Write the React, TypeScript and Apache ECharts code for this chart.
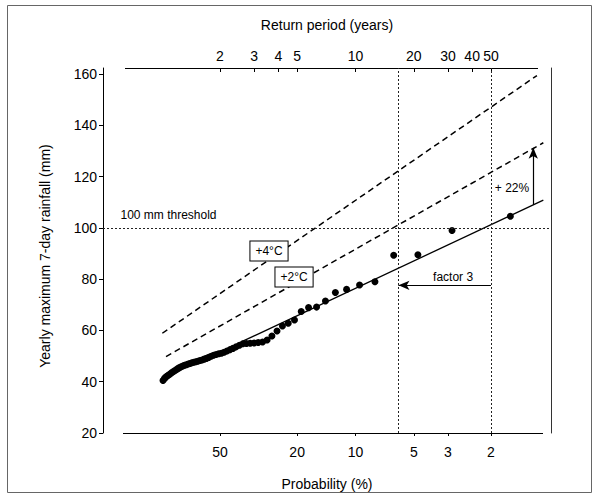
import React, { useEffect, useRef } from "react";
import * as echarts from "echarts";

// ---- data ----
const RECORD_YEARS = 62; // plotting position T = (N + 1) / rank
const RANKED_RAINFALL = [
  104.5, 99.0, 89.5, 89.3, 79.0, 77.7, 76.0, 74.8, 71.5, 69.1,
  68.9, 67.4, 64.1, 62.8, 61.7, 59.8, 57.8, 56.3, 55.5, 55.3,
  55.1, 55.0, 54.9, 54.8, 54.2, 53.6, 53.0, 52.5, 52.0, 51.5,
  51.1, 50.9, 50.6, 50.3, 49.9, 49.5, 49.1, 48.8, 48.5, 48.3,
  48.0, 47.8, 47.6, 47.4, 47.1, 46.9, 46.6, 46.4, 46.1, 45.8,
  45.5, 45.1, 44.7, 44.3, 43.9, 43.5, 43.0, 42.6, 42.2, 41.8,
  41.2, 40.5,
];
// [return period (years), rainfall (mm)]
const FITTED_LINE = [[2.59, 55.6], [93.2, 110.8]];
const PLUS2_LINE = [[1.053, 49.8], [93.2, 133.2]];
const PLUS4_LINE = [[1.008, 58.9], [86.4, 159.4]];

const TOP_TICK_YEARS = [2, 3, 4, 5, 10, 20, 30, 40, 50];
const BOTTOM_TICK_PCT = [50, 20, 10, 5, 10 / 3, 2];
const Y_TICKS = [20, 40, 60, 80, 100, 120, 140, 160];

const THRESHOLD_MM = 100;
const DESIGN_PERIOD = 50;
const FACTOR = 3;
const FACTOR_ARROW_MM = 77.6;
const INCREASE_ARROW = { period: 82.7, from: 108.9, to: 131.2 };

const ANNOTATION_TEXT = ["100 mm threshold", "factor 3", "+ 22%", "+4°C", "+2°C"];
const ANNOTATION_PERIOD = [0.6095, 31.9, 64.2, 3.58, 4.82];
const ANNOTATION_MM = [105.0, 80.7, 115.4, 91.0, 80.8];
const ANNOTATION_BOXED = [false, false, false, true, true];

// ---- layout ----
const X_MIN = -0.30269;
const X_MAX = 2.00898;
const Y_MIN = 20;
const Y_MAX = 162.34;
const INK = "#000";
const FONT = "'Liberation Sans', Arial, Helvetica, sans-serif";

const L = (t: number) => Math.log10(t);

export default function App() {
  const ref = useRef<HTMLDivElement>(null);

  useEffect(() => {
    document.body.style.margin = "0";
    if (!ref.current) return;
    const chart = echarts.init(ref.current, undefined, { renderer: "svg" });

    const points = RANKED_RAINFALL.map((v, i) => [L((RECORD_YEARS + 1) / (i + 1)), v]);
    const toXY = (arr: number[][]) => arr.map(([t, v]) => [L(t), v]);

    const dotted = { type: [2, 2] as any, color: "#222", width: 1 };
    const dashed = { type: [6, 4] as any, color: INK, width: 1.5 };

    const arrowHead = { symbol: "arrow", symbolSize: [7, 11] };

    const option: any = {
      animation: false,
      backgroundColor: "#fff",
      textStyle: { fontFamily: FONT },
      grid: { left: 103, right: 56, top: 68, bottom: 64, containLabel: false },
      xAxis: [
        {
          type: "value",
          position: "bottom",
          min: X_MIN,
          max: X_MAX,
          axisLine: { show: false, onZero: false },
          splitLine: { show: false },
          axisTick: {
            show: true,
            inside: false,
            length: 3,
            customValues: BOTTOM_TICK_PCT.map((p) => L(100 / p)),
            lineStyle: { color: INK },
          },
          axisLabel: {
            show: true,
            customValues: BOTTOM_TICK_PCT.map((p) => L(100 / p)),
            formatter: (v: number) => String(Math.round(100 / Math.pow(10, v))),
            margin: 12,
            fontSize: 14,
            color: INK,
            fontFamily: FONT,
          },
        },
        {
          type: "value",
          position: "top",
          min: X_MIN,
          max: X_MAX,
          axisLine: { show: false, onZero: false },
          splitLine: { show: false },
          axisTick: {
            show: true,
            inside: true,
            length: 4,
            customValues: TOP_TICK_YEARS.map((t) => L(t)),
            lineStyle: { color: INK },
          },
          axisLabel: {
            show: true,
            customValues: TOP_TICK_YEARS.map((t) => L(t)),
            formatter: (v: number) => String(Math.round(Math.pow(10, v))),
            margin: 5,
            fontSize: 14,
            color: INK,
            fontFamily: FONT,
          },
        },
      ],
      yAxis: [
        {
          type: "value",
          position: "left",
          min: Y_MIN,
          max: Y_MAX,
          axisLine: { show: true, onZero: false, lineStyle: { color: INK, width: 1 } },
          splitLine: { show: false },
          axisTick: { show: true, inside: false, length: 4, customValues: Y_TICKS, lineStyle: { color: INK } },
          axisLabel: { show: true, customValues: Y_TICKS, margin: 6, fontSize: 14, color: INK, fontFamily: FONT },
        },
        {
          type: "value",
          position: "right",
          min: Y_MIN,
          max: Y_MAX,
          axisLine: { show: true, onZero: false, lineStyle: { color: "#333", width: 1 } },
          splitLine: { show: false },
          axisTick: { show: false },
          axisLabel: { show: false },
        },
      ],
      series: [
        {
          name: "+4°C",
          type: "line",
          data: toXY(PLUS4_LINE),
          symbol: "none",
          lineStyle: dashed,
          z: 3,
        },
        {
          name: "+2°C",
          type: "line",
          data: toXY(PLUS2_LINE),
          symbol: "none",
          lineStyle: dashed,
          z: 3,
          markLine: {
            silent: true,
            symbol: ["none", "none"],
            label: { show: false },
            lineStyle: { color: INK, width: 1.2, type: "solid" },
            data: [
              [
                { coord: [L(DESIGN_PERIOD), FACTOR_ARROW_MM], symbol: "none" },
                { coord: [L(DESIGN_PERIOD / FACTOR), FACTOR_ARROW_MM], ...arrowHead },
              ],
              [
                { coord: [L(INCREASE_ARROW.period), INCREASE_ARROW.from], symbol: "none" },
                { coord: [L(INCREASE_ARROW.period), INCREASE_ARROW.to], ...arrowHead },
              ],
            ],
          },
        },
        {
          name: "fitted",
          type: "line",
          data: toXY(FITTED_LINE),
          symbol: "none",
          lineStyle: { color: INK, width: 1.3, type: "solid" },
          z: 3,
          markLine: {
            silent: true,
            symbol: ["none", "none"],
            label: { show: false },
            lineStyle: dotted,
            data: [
              { xAxis: L(DESIGN_PERIOD / FACTOR) },
              { xAxis: L(DESIGN_PERIOD) },
              { yAxis: THRESHOLD_MM },
            ],
          },
        },
        {
          name: "observed",
          type: "scatter",
          data: points,
          symbol: "circle",
          symbolSize: 7,
          itemStyle: { color: INK, opacity: 1 },
          z: 4,
          markPoint: {
            silent: true,
            symbol: "circle",
            symbolSize: 1,
            itemStyle: { color: "rgba(0,0,0,0)" },
            data: ANNOTATION_TEXT.map((txt, i) => ({
              coord: [L(ANNOTATION_PERIOD[i]), ANNOTATION_MM[i]],
              value: 0,
              label: ANNOTATION_BOXED[i]
                ? {
                    show: true,
                    position: "inside",
                    formatter: txt,
                    color: INK,
                    fontSize: 12,
                    fontFamily: FONT,
                    borderColor: INK,
                    borderWidth: 1,
                    backgroundColor: "#fff",
                    padding: [4, 5, 3, 5],
                  }
                : i === 0
                ? { show: true, position: "right", distance: 0, formatter: txt, color: INK, fontSize: 12, fontFamily: FONT }
                : { show: true, position: "inside", formatter: txt, color: INK, fontSize: 12, fontFamily: FONT },
            })),
          },
        },
      ],
      graphic: [
        {
          type: "rect",
          silent: true,
          z: -1,
          shape: { x: 7.5, y: 5.5, width: 584, height: 487 },
          style: { fill: "none", stroke: "#666", lineWidth: 1 },
        },
        {
          type: "line",
          silent: true,
          shape: { x1: 123, y1: 433.5, x2: 543, y2: 433.5 },
          style: { stroke: INK, lineWidth: 1 },
        },
        {
          type: "line",
          silent: true,
          shape: { x1: 125, y1: 68.5, x2: 538, y2: 68.5 },
          style: { stroke: INK, lineWidth: 1.2 },
        },
        {
          type: "text",
          silent: true,
          x: 327,
          y: 25,
          style: { text: "Return period (years)", fill: INK, font: `14px ${FONT}`, textAlign: "center", textVerticalAlign: "middle" },
        },
        {
          type: "text",
          silent: true,
          x: 327,
          y: 484,
          style: { text: "Probability (%)", fill: INK, font: `14px ${FONT}`, textAlign: "center", textVerticalAlign: "middle" },
        },
        {
          type: "text",
          silent: true,
          x: 45,
          y: 256,
          rotation: Math.PI / 2,
          style: {
            text: "Yearly maximum 7-day rainfall (mm)",
            fill: INK,
            font: `14px ${FONT}`,
            textAlign: "center",
            textVerticalAlign: "middle",
          },
        },
      ],
    };

    chart.setOption(option);
    return () => chart.dispose();
  }, []);

  return <div ref={ref} style={{ width: 607, height: 497 }} />;
}
